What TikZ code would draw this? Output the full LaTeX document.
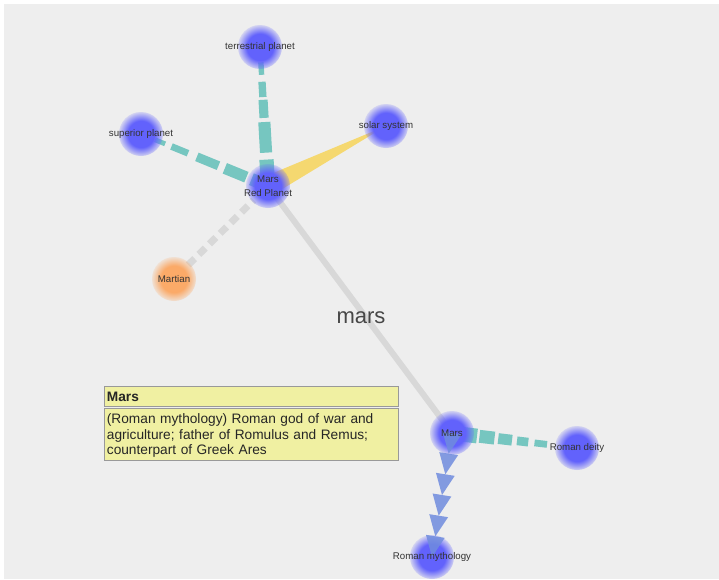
\documentclass[tikz,border=0pt]{standalone}
\usepackage{fontspec}
\setmainfont{Liberation Sans}
\usetikzlibrary{calc}
\usetikzlibrary{fadings}
\definecolor{bggray}{RGB}{238,238,238}
\definecolor{nodeblue}{RGB}{98,98,252}
\definecolor{nodeorange}{RGB}{251,170,104}
\definecolor{tealedge}{RGB}{118,198,192}
\definecolor{goldedge}{RGB}{245,216,112}
\definecolor{grayedge}{RGB}{216,216,216}
\definecolor{arrowblue}{RGB}{112,140,222}
\definecolor{tipyellow}{RGB}{240,240,162}
\definecolor{labelgray}{RGB}{51,51,51}
\pgfdeclareradialshading{rimshade}{\pgfpoint{0bp}{0bp}}{color(0bp)=(white); color(15bp)=(white); color(25bp)=(black!80); color(50bp)=(black)}
\pgfdeclarefading{rimfade}{\pgfuseshading{rimshade}}

\begin{document}
\begin{tikzpicture}[x=1pt,y=-1pt,
  concept/.style={circle, minimum size=44pt, inner sep=0pt, fill=nodeblue, path fading=rimfade},
  gloss/.style={concept, fill=nodeorange},
  caption/.style={text=labelgray, font=\fontsize{9.7}{14}\selectfont, align=center, inner sep=0pt},
  tipbox/.style={draw=black!40, line width=0.8pt, fill=tipyellow, anchor=north west, inner xsep=2.5pt, inner ysep=0pt, text=black!85, align=left, text width=289pt}]
\useasboundingbox (0,0) rectangle (719,579);
\fill[white] (0,0) rectangle (719,579);
\fill[bggray] (4,4) rectangle (719,579);

% where the concepts sit
\coordinate (tpc) at (260,47);
\coordinate (spc) at (141,134);
\coordinate (ssc) at (386,126);
\coordinate (mrpc) at (268,186);
\coordinate (martianc) at (174,279);
\coordinate (marsc) at (452,433);
\coordinate (rdc) at (577,448);
\coordinate (rmc) at (432,557);

% links under the circles
\draw[grayedge, line width=6pt] (mrpc) -- (marsc);
\draw[grayedge, line width=7pt, dash pattern=on 9pt off 6pt] ($(martianc)!20pt!(mrpc)$) -- ($(mrpc)!20pt!(martianc)$);
\fill[goldedge] (ssc) -- ($(mrpc)!10pt!90:(ssc)$) -- ($(mrpc)!10pt!-90:(ssc)$) -- cycle;
\foreach \a/\b in {0.11/0.20, 0.25/0.36, 0.38/0.51, 0.54/0.76, 0.81/0.94}
  \draw[tealedge, line width={(3+12*\b)*1pt}] ($(tpc)!\a!(mrpc)$) -- ($(tpc)!\b!(mrpc)$);
\foreach \a/\b in {0.11/0.19, 0.24/0.37, 0.44/0.61, 0.66/0.83, 0.87/0.96}
  \draw[tealedge, line width={(3+10*\b)*1pt}] ($(spc)!\a!(mrpc)$) -- ($(spc)!\b!(mrpc)$);
\foreach \a/\b in {0.09/0.20, 0.22/0.34, 0.37/0.48, 0.52/0.61, 0.66/0.76}
  \draw[tealedge, line width={(16-14*\a)*1pt}] ($(marsc)!\a!(rdc)$) -- ($(marsc)!\b!(rdc)$);

\node[concept] (tp) at (tpc) {};
\node[concept] (sp) at (spc) {};
\node[concept] (ss) at (ssc) {};
\node[concept] (mrp) at (mrpc) {};
\node[gloss] (martian) at (martianc) {};
\node[concept] (mars) at (marsc) {};
\node[concept] (rd) at (rdc) {};
\node[concept] (rm) at (rmc) {};

% domain link as a row of arrowheads
\foreach \k in {1,...,6} {
  \path ($(mars)!{(\k-1)/6}!(rm)$) coordinate (base) ($(mars)!{\k/6}!(rm)$) coordinate (tip);
  \fill[arrowblue, opacity=0.85] (tip) -- ($(base)!9.5pt!90:(tip)$) -- ($(base)!9.5pt!-90:(tip)$) -- cycle;
}

\node[caption] (tptext) at (tp) {terrestrial planet};
\node[caption] (sptext) at (sp) {superior planet};
\node[caption] (sstext) at (ss) {solar system};
\node[caption] (mrptext) at (mrp) {Mars\\Red Planet};
\node[caption] (martiantext) at (martian) {Martian};
\node[caption] (marstext) at (mars) {Mars};
\node[caption] (rdtext) at (rd) {Roman deity};
\node[caption] (rmtext) at (rm) {Roman mythology};

\node[text=labelgray!90, font=\fontsize{22}{26}\selectfont] (word) at (361,318) {mars};

\node[tipbox, minimum height=20pt, font=\fontsize{13.7}{15.5}\selectfont\bfseries] (tiptitle) at (104,386) {Mars};
\node[tipbox, minimum height=52pt, font=\fontsize{13.7}{15.5}\selectfont] (tipbody) at (104,408) {\rule{0pt}{13pt}(Roman mythology) Roman god of war and\\agriculture; father of Romulus and Remus;\\counterpart of Greek Ares};
\end{tikzpicture}
\end{document}
